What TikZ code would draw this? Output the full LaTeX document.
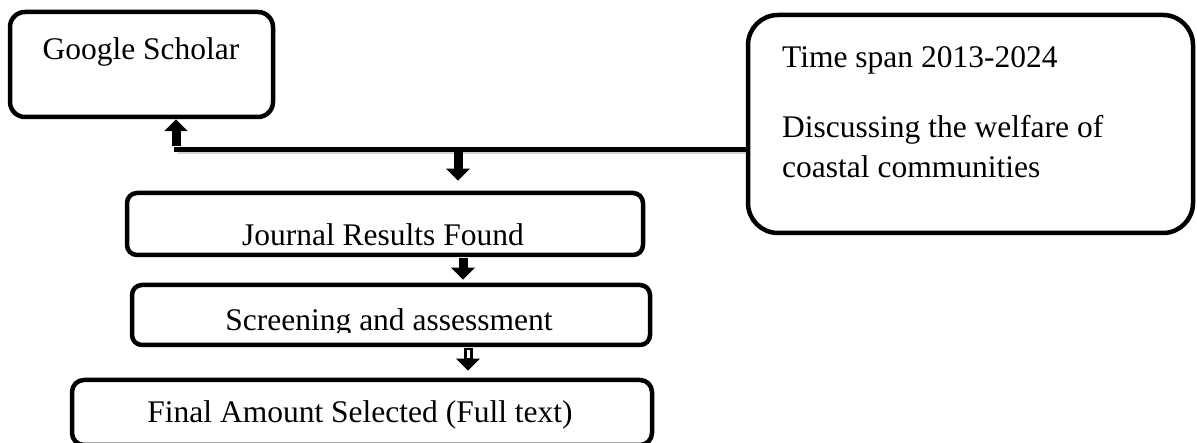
\documentclass[tikz,border=0pt]{standalone}
\usepackage{fontspec}
\setmainfont{Liberation Serif}
\usetikzlibrary{arrows.meta}
\tikzset{
  box/.style={draw, line width=4.5pt, rounded corners=#1, inner sep=0pt},
  txt/.style={font=\fontsize{31.5}{40}\selectfont, inner sep=0pt, anchor=base},
  blk/.style={line width=9pt, -{Triangle[width=23pt,length=12pt]}},
  link/.style={line width=5pt},
  shade/.style={line width=4pt, black!18},
}
\begin{document}
\begin{tikzpicture}[x=1pt,y=-1pt]
\useasboundingbox (0,0) rectangle (1197,443);

% boxes
\node[box=15pt, minimum width=263pt, minimum height=105pt] (gs) at (141.5,64.5) {};
\node[box=30pt, minimum width=445pt, minimum height=218pt] (rb) at (970.5,124) {};
\node[box=10pt, minimum width=516pt, minimum height=62pt] (jr) at (385,224) {};
\node[box=10pt, minimum width=518pt, minimum height=60pt] (sc) at (391,315) {};
\node[box=12pt, minimum width=580pt, minimum height=65pt] (fn) at (362,412.5) {};

% texts
\node[txt] (gst) at (141,60) {Google Scholar};
\node[txt, anchor=base west] (t1) at (782,68) {Time span 2013-2024};
\node[txt, anchor=base west] (t2) at (782,138) {Discussing the welfare of};
\node[txt, anchor=base west] (t3) at (782,178) {coastal communities};
\begin{scope}
  \clip (127,193) rectangle (643,247.5);
  \node[txt] (jrt) at (383,246) {Journal Results Found};
\end{scope}
\begin{scope}
  \clip (132,285) rectangle (650,332.5);
  \node[txt] (sct) at (389,331) {Screening and assessment};
\end{scope}
\node[txt] (fnt) at (360,423) {Final Amount Selected (Full text)};

% connectors
\coordinate (jl) at (174,149.5);
\coordinate (jt) at (176,146);
\coordinate (jd) at (458,151);
\draw[shade] (rb.west |- 0,152) -- (178,152);
\draw[link] (rb.west |- jl) -- (jl);
\draw[blk] (jt) -- (jt |- gs.south);
\draw[blk, shorten >=10pt] (jd) -- (jd |- jr.north);
\draw[blk, shorten <=1pt, shorten >=3pt] (jr.south -| 463,0) -- (sc.north -| 463,0);
\draw[blk, shorten <=1pt, shorten >=7pt] (sc.south -| 468,0) -- (fn.north -| 468,0);
\draw[white, line width=3pt, shorten <=3pt, shorten >=20pt] (sc.south -| 468,0) -- (fn.north -| 468,0);
\end{tikzpicture}
\end{document}
